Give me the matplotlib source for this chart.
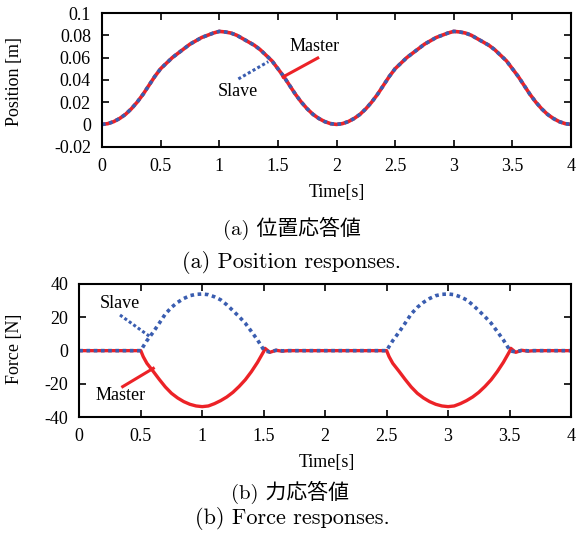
import numpy as np
import matplotlib
matplotlib.use("Agg")
import matplotlib.pyplot as plt

# position responses (master and slave overlap)
t_pos = [0.0, 0.05, 0.1, 0.15, 0.2, 0.25, 0.3, 0.35, 0.4, 0.45, 0.5, 0.55, 0.6, 0.65, 0.7, 0.75, 0.8, 0.85, 0.9, 0.95,
         1.0, 1.05, 1.1, 1.15, 1.2, 1.25, 1.3, 1.35, 1.4, 1.45, 1.5, 1.55, 1.6, 1.65, 1.7, 1.75, 1.8, 1.85, 1.9, 1.95,
         2.0, 2.05, 2.1, 2.15, 2.2, 2.25, 2.3, 2.35, 2.4, 2.45, 2.5, 2.55, 2.6, 2.65, 2.7, 2.75, 2.8, 2.85, 2.9, 2.95,
         3.0, 3.05, 3.1, 3.15, 3.2, 3.25, 3.3, 3.35, 3.4, 3.45, 3.5, 3.55, 3.6, 3.65, 3.7, 3.75, 3.8, 3.85, 3.9, 3.95, 4.0]
pos_master = [0.0, 0.0007, 0.0025, 0.0053, 0.009, 0.014, 0.020, 0.027, 0.035, 0.043, 0.050, 0.055, 0.060, 0.064, 0.068,
              0.072, 0.075, 0.078, 0.080, 0.082, 0.0835, 0.083, 0.082, 0.080, 0.077, 0.074, 0.071, 0.067, 0.062, 0.057,
              0.050, 0.043, 0.035, 0.027, 0.020, 0.014, 0.009, 0.0053, 0.0025, 0.0007,
              0.0, 0.0007, 0.0025, 0.0053, 0.009, 0.014, 0.020, 0.027, 0.035, 0.043, 0.050, 0.055, 0.060, 0.064, 0.068,
              0.072, 0.075, 0.078, 0.080, 0.082, 0.0835, 0.083, 0.082, 0.080, 0.077, 0.074, 0.071, 0.067, 0.062, 0.057,
              0.050, 0.043, 0.035, 0.027, 0.020, 0.014, 0.009, 0.0053, 0.0025, 0.0007, 0.0]
pos_slave = [0.0, 0.0007, 0.0025, 0.0053, 0.009, 0.014, 0.020, 0.027, 0.035, 0.043, 0.050, 0.055, 0.060, 0.064, 0.068,
             0.072, 0.075, 0.078, 0.080, 0.082, 0.0835, 0.083, 0.082, 0.080, 0.077, 0.074, 0.071, 0.067, 0.062, 0.057,
             0.050, 0.043, 0.035, 0.027, 0.020, 0.014, 0.009, 0.0053, 0.0025, 0.0007,
             0.0, 0.0007, 0.0025, 0.0053, 0.009, 0.014, 0.020, 0.027, 0.035, 0.043, 0.050, 0.055, 0.060, 0.064, 0.068,
             0.072, 0.075, 0.078, 0.080, 0.082, 0.0835, 0.083, 0.082, 0.080, 0.077, 0.074, 0.071, 0.067, 0.062, 0.057,
             0.050, 0.043, 0.035, 0.027, 0.020, 0.014, 0.009, 0.0053, 0.0025, 0.0007, 0.0]

# force responses
t_force = [0.0, 0.5, 0.52, 0.55, 0.6, 0.65, 0.7, 0.75, 0.8, 0.85, 0.9, 0.95, 1.0, 1.05, 1.1, 1.15, 1.2, 1.25, 1.3,
           1.35, 1.4, 1.45, 1.5, 1.51, 1.55, 1.6, 1.65, 1.7,
           2.5, 2.52, 2.55, 2.6, 2.65, 2.7, 2.75, 2.8, 2.85, 2.9, 2.95, 3.0, 3.05, 3.1, 3.15, 3.2, 3.25, 3.3,
           3.35, 3.4, 3.45, 3.5, 3.51, 3.55, 3.6, 3.65, 3.7, 4.0]
f_slave = [0, 0, 2.5, 6, 11, 16.4, 22, 26, 29, 31.3, 33, 33.8, 34, 33.6, 32.3, 30.5, 27.5, 24, 20.4,
           16.5, 11.5, 6.4, 0.5, -0.2, -0.8, 0.2, -0.1, 0,
           0, 2.5, 6, 11, 16.4, 22, 26, 29, 31.3, 33, 33.8, 34, 33.6, 32.3, 30.5, 27.5, 24, 20.4,
           16.5, 11.5, 6.4, 0.5, -0.2, -0.8, 0.2, -0.1, 0, 0]
f_master = [0, 0, -3.6, -7.6, -12.3, -17.2, -21.8, -25.6, -28.4, -30.6, -32.2, -33.2, -33.6, -33.2, -31.8, -30, -27.8,
            -25, -21.5, -17.5, -12.6, -7, -0.5, 1.4, -1.0, 0.2, -0.3, 0,
            0, -3.6, -7.6, -12.3, -17.2, -21.8, -25.6, -28.4, -30.6, -32.2, -33.2, -33.6, -33.2, -31.8, -30, -27.8,
            -25, -21.5, -17.5, -12.6, -7, -0.5, 1.4, -1.0, 0.2, -0.3, 0, 0]

x_ticks = [0, 0.5, 1, 1.5, 2, 2.5, 3, 3.5, 4]
x_labels = ['0', '0.5', '1', '1.5', '2', '2.5', '3', '3.5', '4']
pos_ticks = [-0.02, 0, 0.02, 0.04, 0.06, 0.08, 0.1]
pos_labels = ['-0.02', '0', '0.02', '0.04', '0.06', '0.08', '0.1']
force_ticks = [-40, -20, 0, 20, 40]
force_labels = ['-40', '-20', '0', '20', '40']

RED = '#ec2227'
BLUE = '#3a5db0'
serif = ['Liberation Serif']
cap_font = ['cmr10', 'Noto Sans CJK JP']
FS = 13

plt.rcParams['font.family'] = serif
plt.rcParams['axes.linewidth'] = 1.5

fig = plt.figure(figsize=(5.79, 5.42), dpi=100)
W, H = 579, 542


def px_axes(l, t, r, b):
    return fig.add_axes([l / W, 1 - b / H, (r - l) / W, (b - t) / H])


def style(ax, yt, yl):
    ax.set_xlim(0, 4)
    ax.set_xticks(x_ticks)
    ax.set_xticklabels(x_labels)
    ax.set_yticks(yt)
    ax.set_yticklabels(yl)
    ax.tick_params(direction='in', top=True, right=True, length=5, width=1.2, labelsize=FS, pad=8)


# top: position
ax1 = px_axes(102, 13, 571, 146.7)
ax1.plot(t_pos, pos_master, color=RED, lw=2.6, solid_capstyle='butt')
ax1.plot(t_pos, pos_slave, color=BLUE, lw=2.6, linestyle=(0, (1, 1)), dash_capstyle='butt')
ax1.set_ylim(-0.02, 0.1)
style(ax1, pos_ticks, pos_labels)
ax1.plot([1.84, 1.544], [0.0596, 0.0426], color=RED, lw=2.2)
ax1.plot([1.163, 1.418], [0.0408, 0.0563], color=BLUE, lw=2.2, linestyle=(0, (1, 0.8)))
ax1.text(1.60, 0.0698, 'Master', fontsize=FS, va='center', ha='left')
ax1.text(0.99, 0.0294, 'Slave', fontsize=FS, va='center', ha='left')

# bottom: force (slave drawn on top so the flat parts mix)
ax2 = px_axes(79.3, 284, 571, 417.3)
ax2.plot(t_force, f_master, color=RED, lw=2.4)
ax2.plot(t_force, f_slave, color=BLUE, lw=2.6, linestyle=(0, (1, 1)), dash_capstyle='butt')
ax2.set_ylim(-40, 40)
style(ax2, force_ticks, force_labels)
ax2.plot([0.331, 0.575], [21.4, 8.4], color=BLUE, lw=2.2, linestyle=(0, (1, 0.8)))
ax2.plot([0.353, 0.602], [-21.6, -10.6], color=RED, lw=2.2)
ax2.text(0.17, 28, 'Slave', fontsize=FS, va='center', ha='left')
ax2.text(0.128, -26.9, 'Master', fontsize=FS, va='center', ha='left')

# axis labels and captions placed in pixel terms
fig.text(15 / W, 1 - 82 / H, 'Position [m]', rotation=90, fontsize=FS, ha='center', va='center')
fig.text(15 / W, 1 - 349 / H, 'Force [N]', rotation=90, fontsize=FS, ha='center', va='center')
fig.text(337 / W, 1 - 193 / H, 'Time[s]', fontsize=FS, ha='center', va='center')
fig.text(327 / W, 1 - 463 / H, 'Time[s]', fontsize=FS, ha='center', va='center')

fig.text(292 / W, 1 - 228 / H, '(a) 位置応答値', fontsize=15, ha='center', va='center', family=cap_font)
fig.text(292 / W, 1 - 262 / H, '(a) Position responses.', fontsize=16, ha='center', va='center', family=cap_font)
fig.text(290 / W, 1 - 492 / H, '(b) 力応答値', fontsize=15, ha='center', va='center', family=cap_font)
fig.text(292 / W, 1 - 518 / H, '(b) Force responses.', fontsize=16, ha='center', va='center', family=cap_font)

fig.savefig('out.png', dpi=100)
